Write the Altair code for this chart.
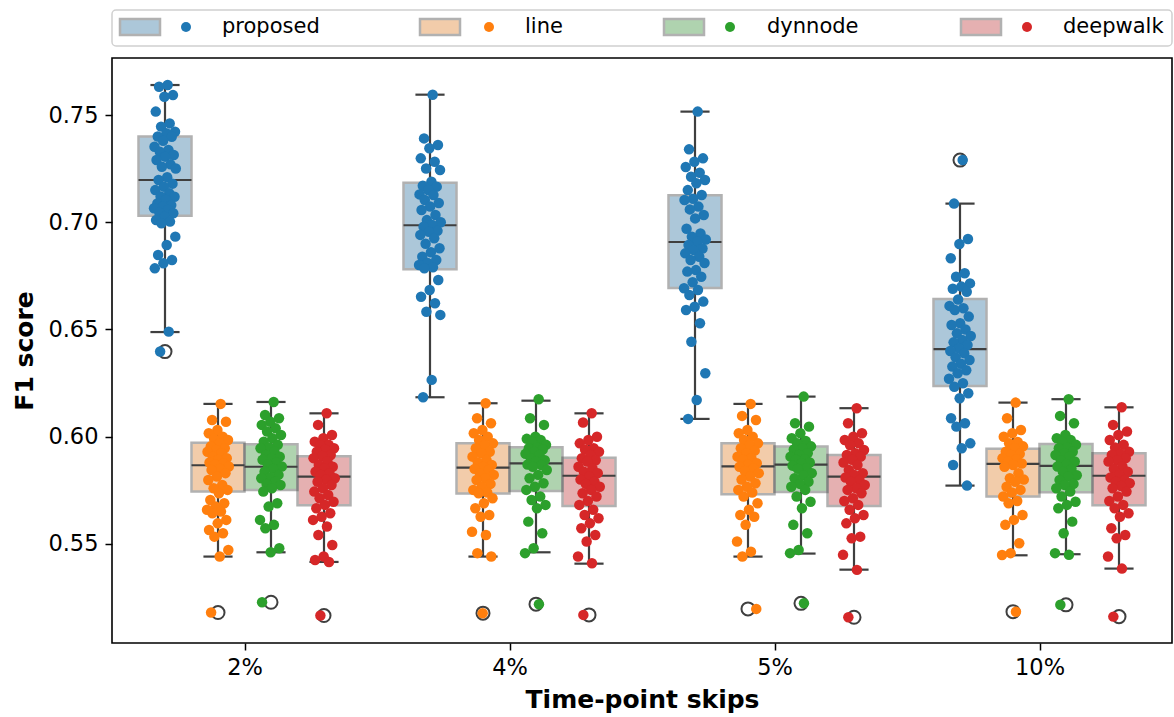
import altair as alt
import pandas as pd

categories = ["2%", "4%", "5%", "10%"]
methods = ["proposed", "line", "dynnode", "deepwalk"]
point_colors = ["#1f77b4", "#ff7f0e", "#2ca02c", "#d62728"]
box_colors = ["#3274a1", "#e1812c", "#3a923a", "#c03d3e"]

# ---- observed F1 scores per (skip, method) ----
proposed_2 = [0.7640, 0.7632, 0.7593, 0.7585, 0.7516, 0.7461, 0.7446, 0.7422, 0.7415, 0.7400,
              0.7399, 0.7380, 0.7352, 0.7337, 0.7329, 0.7314, 0.7306, 0.7290, 0.7270, 0.7259,
              0.7251, 0.7210, 0.7197, 0.7180, 0.7166, 0.7150, 0.7135, 0.7120, 0.7119, 0.7104,
              0.7088, 0.7080, 0.7073, 0.7065, 0.7057, 0.7045, 0.7042, 0.7026, 0.7010, 0.7003,
              0.6995, 0.6933, 0.6894, 0.6847, 0.6824, 0.6809, 0.6785, 0.6490, 0.6397]
line_2 = [0.6153, 0.6078, 0.6070, 0.6031, 0.6016, 0.6000, 0.5990, 0.5985, 0.5969, 0.5955,
          0.5946, 0.5938, 0.5930, 0.5923, 0.5907, 0.5900, 0.5892, 0.5880, 0.5876, 0.5870,
          0.5861, 0.5850, 0.5845, 0.5830, 0.5814, 0.5798, 0.5775, 0.5760, 0.5752, 0.5736,
          0.5705, 0.5690, 0.5674, 0.5659, 0.5651, 0.5643, 0.5612, 0.5596, 0.5565, 0.5550,
          0.5534, 0.5472, 0.5441, 0.5180]
dynnode_2 = [0.6162, 0.6101, 0.6086, 0.6070, 0.6055, 0.6039, 0.6024, 0.6008, 0.5993, 0.5977,
             0.5962, 0.5950, 0.5946, 0.5930, 0.5915, 0.5907, 0.5900, 0.5892, 0.5880, 0.5870,
             0.5861, 0.5850, 0.5837, 0.5822, 0.5810, 0.5806, 0.5790, 0.5780, 0.5775, 0.5760,
             0.5744, 0.5690, 0.5674, 0.5612, 0.5589, 0.5573, 0.5480, 0.5461, 0.5228]
deepwalk_2 = [0.6109, 0.6055, 0.6008, 0.5993, 0.5977, 0.5962, 0.5960, 0.5946, 0.5940, 0.5930,
              0.5915, 0.5910, 0.5900, 0.5884, 0.5868, 0.5860, 0.5853, 0.5837, 0.5830, 0.5822,
              0.5806, 0.5800, 0.5790, 0.5775, 0.5760, 0.5744, 0.5728, 0.5713, 0.5697, 0.5682,
              0.5666, 0.5643, 0.5627, 0.5612, 0.5581, 0.5542, 0.5495, 0.5441, 0.5425, 0.5416,
              0.5166]

proposed_4 = [0.7595, 0.7391, 0.7360, 0.7345, 0.7298, 0.7282, 0.7251, 0.7244, 0.7189, 0.7170,
              0.7166, 0.7150, 0.7130, 0.7127, 0.7104, 0.7090, 0.7073, 0.7057, 0.7034, 0.7010,
              0.7000, 0.6987, 0.6979, 0.6960, 0.6956, 0.6941, 0.6925, 0.6900, 0.6879, 0.6860,
              0.6839, 0.6824, 0.6810, 0.6801, 0.6790, 0.6785, 0.6731, 0.6684, 0.6653, 0.6622,
              0.6583, 0.6568, 0.6265, 0.6184]
line_4 = [0.6156, 0.6086, 0.6063, 0.6031, 0.6016, 0.6000, 0.5985, 0.5969, 0.5960, 0.5946,
          0.5930, 0.5923, 0.5907, 0.5892, 0.5880, 0.5868, 0.5860, 0.5850, 0.5845, 0.5830,
          0.5822, 0.5806, 0.5798, 0.5780, 0.5767, 0.5752, 0.5740, 0.5736, 0.5713, 0.5690,
          0.5666, 0.5635, 0.5627, 0.5557, 0.5542, 0.5457, 0.5441, 0.5177]
dynnode_4 = [0.6175, 0.6086, 0.6055, 0.6000, 0.5990, 0.5985, 0.5975, 0.5962, 0.5950, 0.5946,
             0.5940, 0.5930, 0.5920, 0.5915, 0.5900, 0.5890, 0.5884, 0.5870, 0.5868, 0.5860,
             0.5845, 0.5822, 0.5806, 0.5783, 0.5767, 0.5752, 0.5721, 0.5705, 0.5682, 0.5666,
             0.5604, 0.5550, 0.5480, 0.5457, 0.5219]
deepwalk_4 = [0.6109, 0.6066, 0.6000, 0.5985, 0.5969, 0.5946, 0.5940, 0.5930, 0.5915, 0.5900,
              0.5890, 0.5884, 0.5860, 0.5853, 0.5837, 0.5830, 0.5814, 0.5800, 0.5790, 0.5780,
              0.5767, 0.5752, 0.5736, 0.5721, 0.5700, 0.5682, 0.5659, 0.5635, 0.5620, 0.5596,
              0.5573, 0.5542, 0.5511, 0.5441, 0.5410, 0.5169]

proposed_5 = [0.7516, 0.7340, 0.7298, 0.7282, 0.7258, 0.7231, 0.7212, 0.7197, 0.7182, 0.7150,
              0.7127, 0.7110, 0.7104, 0.7073, 0.7060, 0.7034, 0.7018, 0.6970, 0.6948, 0.6933,
              0.6920, 0.6909, 0.6894, 0.6878, 0.6870, 0.6855, 0.6839, 0.6824, 0.6810, 0.6777,
              0.6770, 0.6746, 0.6720, 0.6692, 0.6684, 0.6661, 0.6630, 0.6606, 0.6591, 0.6529,
              0.6443, 0.6296, 0.6171, 0.6083]
line_5 = [0.6153, 0.6097, 0.6078, 0.6031, 0.6016, 0.6000, 0.5985, 0.5969, 0.5960, 0.5946,
          0.5935, 0.5923, 0.5907, 0.5900, 0.5892, 0.5876, 0.5870, 0.5860, 0.5853, 0.5840,
          0.5830, 0.5814, 0.5800, 0.5783, 0.5767, 0.5752, 0.5740, 0.5721, 0.5690, 0.5659,
          0.5635, 0.5627, 0.5589, 0.5511, 0.5464, 0.5441, 0.5197]
dynnode_5 = [0.6187, 0.6063, 0.6047, 0.6016, 0.5993, 0.5980, 0.5969, 0.5955, 0.5946, 0.5940,
             0.5923, 0.5915, 0.5907, 0.5895, 0.5892, 0.5880, 0.5876, 0.5865, 0.5853, 0.5850,
             0.5830, 0.5820, 0.5806, 0.5790, 0.5780, 0.5767, 0.5752, 0.5721, 0.5697, 0.5666,
             0.5589, 0.5550, 0.5472, 0.5457, 0.5223]
deepwalk_5 = [0.6133, 0.6063, 0.6016, 0.6000, 0.5985, 0.5969, 0.5960, 0.5938, 0.5923, 0.5915,
              0.5907, 0.5892, 0.5880, 0.5868, 0.5845, 0.5830, 0.5822, 0.5810, 0.5798, 0.5790,
              0.5775, 0.5760, 0.5752, 0.5736, 0.5713, 0.5700, 0.5682, 0.5659, 0.5635, 0.5620,
              0.5596, 0.5534, 0.5526, 0.5449, 0.5379, 0.5158]

proposed_10 = [0.7290, 0.7087, 0.6922, 0.6899, 0.6832, 0.6762, 0.6746, 0.6715, 0.6700, 0.6690,
               0.6676, 0.6640, 0.6610, 0.6599, 0.6591, 0.6560, 0.6529, 0.6521, 0.6500, 0.6482,
               0.6470, 0.6451, 0.6440, 0.6428, 0.6412, 0.6400, 0.6389, 0.6370, 0.6358, 0.6340,
               0.6327, 0.6310, 0.6296, 0.6270, 0.6249, 0.6233, 0.6203, 0.6179, 0.6086, 0.6063,
               0.6047, 0.5969, 0.5946, 0.5868, 0.5772]
line_10 = [0.6159, 0.6086, 0.6031, 0.6016, 0.6000, 0.5975, 0.5969, 0.5955, 0.5946, 0.5930,
           0.5920, 0.5915, 0.5900, 0.5895, 0.5884, 0.5875, 0.5868, 0.5860, 0.5830, 0.5806,
           0.5800, 0.5790, 0.5767, 0.5752, 0.5740, 0.5721, 0.5700, 0.5690, 0.5635, 0.5612,
           0.5589, 0.5503, 0.5457, 0.5448, 0.5184]
dynnode_10 = [0.6175, 0.6097, 0.6063, 0.6008, 0.5993, 0.5985, 0.5977, 0.5962, 0.5950, 0.5946,
              0.5930, 0.5923, 0.5915, 0.5907, 0.5890, 0.5884, 0.5870, 0.5861, 0.5850, 0.5837,
              0.5820, 0.5814, 0.5798, 0.5780, 0.5775, 0.5760, 0.5744, 0.5721, 0.5697, 0.5682,
              0.5666, 0.5604, 0.5550, 0.5457, 0.5449, 0.5216]
deepwalk_10 = [0.6137, 0.6055, 0.6024, 0.6008, 0.5985, 0.5962, 0.5950, 0.5930, 0.5920, 0.5915,
               0.5900, 0.5890, 0.5884, 0.5861, 0.5850, 0.5837, 0.5822, 0.5810, 0.5798, 0.5790,
               0.5783, 0.5770, 0.5760, 0.5744, 0.5721, 0.5700, 0.5682, 0.5666, 0.5643, 0.5627,
               0.5573, 0.5542, 0.5526, 0.5441, 0.5385, 0.5161]

# ---- box statistics (per method, over categories) ----
whisk_lo = {"proposed": [0.6488, 0.6184, 0.6083, 0.5772],
            "line": [0.5441, 0.5441, 0.5441, 0.5447],
            "dynnode": [0.5461, 0.5461, 0.5455, 0.5452],
            "deepwalk": [0.5416, 0.5408, 0.5380, 0.5385]}
quart1 = {"proposed": [0.7030, 0.6781, 0.6693, 0.6237],
          "line": [0.5744, 0.5735, 0.5732, 0.5721],
          "dynnode": [0.5752, 0.5747, 0.5742, 0.5741],
          "deepwalk": [0.5680, 0.5677, 0.5677, 0.5680]}
medians = {"proposed": [0.7197, 0.6986, 0.6908, 0.6408],
           "line": [0.5867, 0.5856, 0.5862, 0.5873],
           "dynnode": [0.5860, 0.5876, 0.5870, 0.5864],
           "deepwalk": [0.5814, 0.5818, 0.5814, 0.5818]}
quart3 = {"proposed": [0.7400, 0.7184, 0.7126, 0.6642],
          "line": [0.5972, 0.5969, 0.5969, 0.5944],
          "dynnode": [0.5965, 0.5951, 0.5954, 0.5966],
          "deepwalk": [0.5909, 0.5902, 0.5915, 0.5923]}
whisk_hi = {"proposed": [0.7640, 0.7595, 0.7516, 0.7087],
            "line": [0.6153, 0.6156, 0.6153, 0.6159],
            "dynnode": [0.6162, 0.6168, 0.6187, 0.6175],
            "deepwalk": [0.6109, 0.6109, 0.6133, 0.6137]}
flier_cat = ["2%", "10%", "2%", "4%", "5%", "10%", "2%", "4%", "5%", "10%", "2%", "4%", "5%", "10%"]
flier_method = ["proposed", "proposed", "line", "line", "line", "line",
                "dynnode", "dynnode", "dynnode", "dynnode",
                "deepwalk", "deepwalk", "deepwalk", "deepwalk"]
flier_value = [0.6397, 0.7290, 0.5180, 0.5177, 0.5197, 0.5184,
               0.5228, 0.5219, 0.5223, 0.5216, 0.5166, 0.5169, 0.5158, 0.5161]

groups = {
    ("2%", "proposed"): proposed_2, ("2%", "line"): line_2,
    ("2%", "dynnode"): dynnode_2, ("2%", "deepwalk"): deepwalk_2,
    ("4%", "proposed"): proposed_4, ("4%", "line"): line_4,
    ("4%", "dynnode"): dynnode_4, ("4%", "deepwalk"): deepwalk_4,
    ("5%", "proposed"): proposed_5, ("5%", "line"): line_5,
    ("5%", "dynnode"): dynnode_5, ("5%", "deepwalk"): deepwalk_5,
    ("10%", "proposed"): proposed_10, ("10%", "line"): line_10,
    ("10%", "dynnode"): dynnode_10, ("10%", "deepwalk"): deepwalk_10,
}

pts_rows = []
for (c, m), vals in groups.items():
    for v in vals:
        pts_rows.append({"cat": c, "method": m, "ci": categories.index(c),
                         "mi": methods.index(m), "score": v})
points_df = pd.DataFrame(pts_rows)

box_rows = []
for m in methods:
    for i, c in enumerate(categories):
        box_rows.append({"cat": c, "method": m, "ci": i, "mi": methods.index(m),
                         "lo": whisk_lo[m][i], "q1": quart1[m][i], "med": medians[m][i],
                         "q3": quart3[m][i], "hi": whisk_hi[m][i]})
box_df = pd.DataFrame(box_rows)

flier_df = pd.DataFrame({"cat": flier_cat, "method": flier_method, "score": flier_value})
flier_df["ci"] = flier_df["cat"].map(categories.index)
flier_df["mi"] = flier_df["method"].map(methods.index)

DARK = "#3f3f3f"
xscale = alt.Scale(domain=[-0.5, 3.5], nice=False, zero=False)
yscale = alt.Scale(domain=[0.5038, 0.7766], nice=False, zero=False)
label_expr = "['2%','4%','5%','10%'][datum.value]"
xaxis = alt.Axis(values=[0, 1, 2, 3], labelExpr=label_expr, title="Time-point skips",
                 grid=False, domain=False, tickColor="black", tickWidth=1.5, tickSize=7,
                 labelFontSize=22.5, labelPadding=6, labelColor="black",
                 titleFontSize=25, titleFontWeight="bold", titlePadding=9, titleColor="black")
yaxis = alt.Axis(values=[0.55, 0.60, 0.65, 0.70, 0.75], format=".2f", title="F1 score",
                 grid=False, domain=False, tickColor="black", tickWidth=1.5, tickSize=7,
                 labelFontSize=22.5, labelPadding=7, labelColor="black",
                 titleFontSize=25, titleFontWeight="bold", titlePadding=10, titleColor="black")

box_base = alt.Chart(box_df).transform_calculate(
    center="datum.ci + (datum.mi - 1.5) * 0.2",
    left="datum.ci + (datum.mi - 1.5) * 0.2 - 0.1",
    right="datum.ci + (datum.mi - 1.5) * 0.2 + 0.1",
    capl="datum.ci + (datum.mi - 1.5) * 0.2 - 0.055",
    capr="datum.ci + (datum.mi - 1.5) * 0.2 + 0.055",
)

boxes = box_base.mark_rect(stroke=DARK, strokeWidth=2.5, opacity=0.4).encode(
    x=alt.X("left:Q", scale=xscale, axis=xaxis),
    x2="right:Q",
    y=alt.Y("q1:Q", scale=yscale, axis=yaxis),
    y2="q3:Q",
    fill=alt.Fill("method:N", scale=alt.Scale(domain=methods, range=box_colors), legend=None),
)
whisk_low = box_base.mark_rule(color=DARK, strokeWidth=2.2).encode(
    x="center:Q", y="lo:Q", y2="q1:Q")
whisk_high = box_base.mark_rule(color=DARK, strokeWidth=2.2).encode(
    x="center:Q", y="q3:Q", y2="hi:Q")
cap_low = box_base.mark_rule(color=DARK, strokeWidth=2.2).encode(
    x="capl:Q", x2="capr:Q", y="lo:Q")
cap_high = box_base.mark_rule(color=DARK, strokeWidth=2.2).encode(
    x="capl:Q", x2="capr:Q", y="hi:Q")
median_line = box_base.mark_rule(color=DARK, strokeWidth=2.2).encode(
    x="left:Q", x2="right:Q", y="med:Q")

fliers = alt.Chart(flier_df).transform_calculate(
    center="datum.ci + (datum.mi - 1.5) * 0.2"
).mark_point(shape="circle", filled=False, stroke=DARK, strokeWidth=2, size=170, opacity=1).encode(
    x="center:Q", y="score:Q")

points = alt.Chart(points_df).transform_window(
    rn="row_number()", groupby=["cat", "method"]
).transform_calculate(
    xp="datum.ci + (datum.mi - 1.5) * 0.2 + ((datum.rn * 0.6180339887) % 1 - 0.5) * 0.085"
).mark_circle(size=110, opacity=1).encode(
    x="xp:Q", y="score:Q",
    color=alt.Color("method:N", scale=alt.Scale(domain=methods, range=point_colors), legend=None),
)

# ---- legend drawn above the plot (layout only) ----
leg_patch_x = [8, 308, 552, 849]
leg_dot_x = [74, 377, 618, 915]
leg_text_x = [110, 413, 655, 951]
legend_layers = [
    alt.Chart(pd.DataFrame({"k": [0]})).mark_rect(
        fill="white", stroke="#cccccc", strokeWidth=1.5, cornerRadius=4, opacity=0.9
    ).encode(x=alt.value(0), x2=alt.value(1060), y=alt.value(-48), y2=alt.value(-12))
]
for i, m in enumerate(methods):
    d = pd.DataFrame({"method": [m]})
    legend_layers.append(alt.Chart(d).mark_rect(
        fill=box_colors[i], stroke=DARK, strokeWidth=2.5, opacity=0.4
    ).encode(x=alt.value(leg_patch_x[i]), x2=alt.value(leg_patch_x[i] + 40),
             y=alt.value(-39), y2=alt.value(-23)))
    legend_layers.append(alt.Chart(d).mark_circle(
        size=100, opacity=1, color=point_colors[i]
    ).encode(x=alt.value(leg_dot_x[i]), y=alt.value(-31)))
    legend_layers.append(alt.Chart(d).mark_text(
        align="left", baseline="middle", fontSize=21, color="black", font="DejaVu Sans"
    ).encode(x=alt.value(leg_text_x[i]), y=alt.value(-31), text="method:N"))

chart = alt.layer(
    boxes, whisk_low, whisk_high, cap_low, cap_high, median_line, fliers, points,
    *legend_layers
).properties(
    width=1060, height=585,
    autosize=alt.AutoSizeParams(type="none"),
    padding={"left": 112, "top": 58, "right": 2, "bottom": 74},
).configure(
    font="DejaVu Sans", background="white"
).configure_view(
    stroke="black", strokeWidth=1.6
)

chart.save("out.html", embed_options={"renderer": "svg", "actions": False})
